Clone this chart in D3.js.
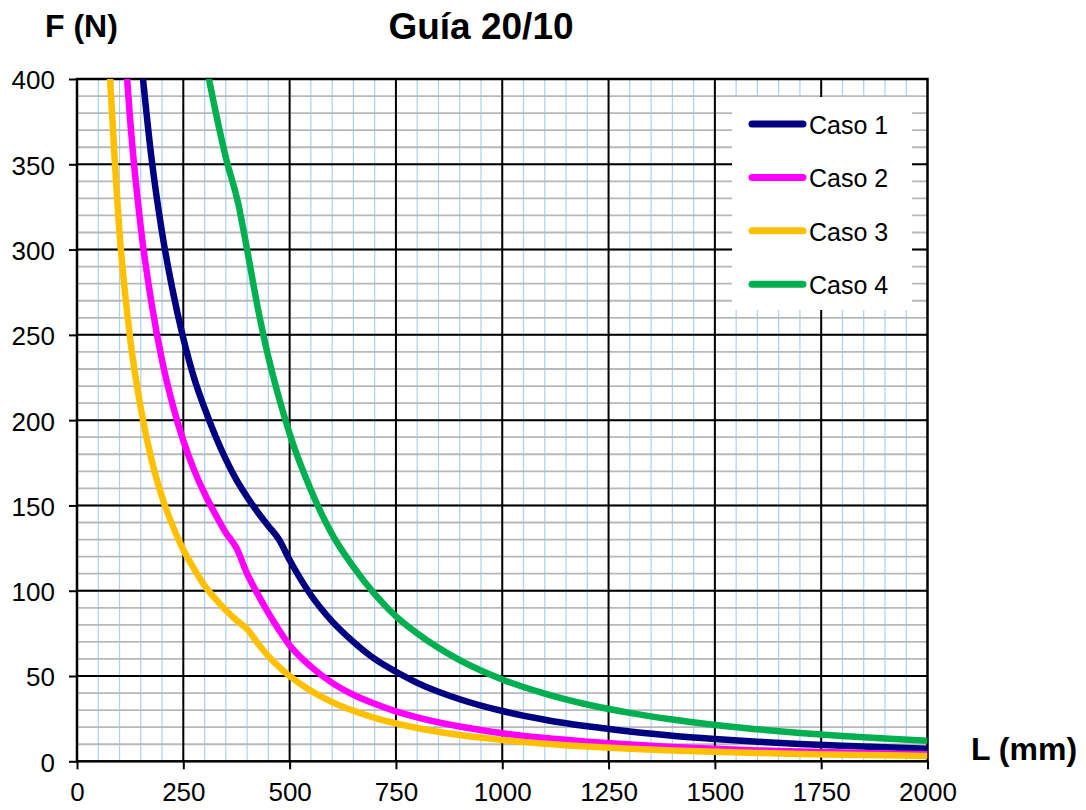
<!DOCTYPE html>
<html>
<head>
<meta charset="utf-8">
<script src="https://cdn.jsdelivr.net/npm/d3@7/dist/d3.min.js"></script>
<style>
    body { margin: 0; background: #fff; }
    svg  { display: block; font-family: Arial, "Liberation Sans", sans-serif; }
</style>
</head>
<body>
<div id="graph-01"></div>
<script>
    // data ===============================================================
    const SERIES_NAMES = ['Caso 1', 'Caso 2', 'Caso 3', 'Caso 4'];

    const L_CASO_1 = [150, 175, 200, 225, 250, 275, 300, 325, 350, 375, 400, 425, 450, 475,
                      500, 550, 600, 650, 700, 750, 800, 900, 1000, 1100, 1200, 1300, 1400,
                      1500, 1600, 1700, 1800, 1900, 2000];
    const F_CASO_1 = [413, 354, 310, 276, 248, 225, 207, 191, 177, 165, 155, 146, 138, 130,
                      118, 97.5, 82, 70, 60, 52.5, 46, 36.4, 29.5, 24.4, 20.5, 17.5, 15,
                      13.1, 11.5, 10.2, 9.1, 8.2, 7.4];

    const L_CASO_2 = [100, 125, 150, 175, 200, 225, 250, 275, 300, 325, 350, 375, 400, 425,
                      450, 475, 500, 550, 600, 650, 700, 750, 800, 900, 1000, 1100, 1200,
                      1300, 1400, 1500, 1600, 1700, 1800, 1900, 2000];
    const F_CASO_2 = [470, 376, 313, 269, 235, 209, 188, 171, 157, 145, 134, 125, 110, 98,
                      87, 77, 68, 55.5, 46, 39, 33.7, 29.3, 25.8, 20.4, 16.5, 13.6, 11.5,
                      9.8, 8.4, 7.3, 6.4, 5.7, 5.1, 4.6, 4.1];

    const L_CASO_3 = [75, 100, 125, 150, 175, 200, 225, 250, 275, 300, 325, 350, 375, 400,
                      425, 450, 475, 500, 550, 600, 650, 700, 750, 800, 900, 1000, 1100, 1200,
                      1300, 1400, 1500, 1600, 1700, 1800, 1900, 2000];
    const F_CASO_3 = [413, 310, 248, 207, 177, 155, 138, 124, 113, 103, 95.4, 88.6, 82.7, 77.5,
                      69.2, 61.7, 55.4, 50, 41.3, 34.7, 29.6, 25.5, 22.2, 19.5, 15.4, 12.5, 10.3, 8.7,
                      7.4, 6.4, 5.6, 4.9, 4.3, 3.9, 3.5, 3.1];

    const L_CASO_4 = [300, 325, 350, 380, 400, 425, 450, 475, 500, 550, 600, 650, 700, 750,
                      800, 900, 1000, 1100, 1200, 1300, 1400, 1500, 1600, 1700, 1800, 1900, 2000];
    const F_CASO_4 = [413, 382, 354, 326, 300, 266, 237, 213, 192, 159, 133, 114, 98, 85,
                      75, 59.3, 48, 39.7, 33.3, 28.4, 24.5, 21.3, 18.8, 16.6, 14.8, 13.3, 12];

    const X_TICKS = [0, 250, 500, 750, 1000, 1250, 1500, 1750, 2000];
    const Y_TICKS = [0, 50, 100, 150, 200, 250, 300, 350, 400];

    const TITLE   = 'Guía 20/10';
    const Y_LABEL = 'F (N)';
    const X_LABEL = 'L (mm)';

    (function(){
        var WIDTH  = 1086,
            HEIGHT = 810;

        var PLOT = { left: 77, right: 927.5, top: 79, bottom: 761.3 };

        var COLORS = ['#000080', '#ff00ff', '#ffc000', '#00b050'];

        var series = [
            { name: SERIES_NAMES[0], L: L_CASO_1, F: F_CASO_1 },
            { name: SERIES_NAMES[1], L: L_CASO_2, F: F_CASO_2 },
            { name: SERIES_NAMES[2], L: L_CASO_3, F: F_CASO_3 },
            { name: SERIES_NAMES[3], L: L_CASO_4, F: F_CASO_4 }
        ];

        var x = d3.scaleLinear().domain([0, 2000]).range([PLOT.left, PLOT.right]);
        var y = d3.scaleLinear().domain([0, 400]).range([PLOT.bottom, PLOT.top]);

        var svg = d3.select('#graph-01')
            .append('svg')
            .attr('width', WIDTH)
            .attr('height', HEIGHT);

        // grid ----------------------------------------------------------
        var grid = svg.append('g').attr('class', 'grid');

        // minor vertical, every 50 mm
        grid.selectAll('line.vminor')
            .data(d3.range(50, 2000, 50))
            .enter().append('line')
            .attr('x1', function(d){ return x(d) }).attr('x2', function(d){ return x(d) })
            .attr('y1', PLOT.top).attr('y2', PLOT.bottom)
            .style('stroke', '#a9d1f7').style('stroke-width', 1.2);

        // minor horizontal, every 10 N
        grid.selectAll('line.hminor')
            .data(d3.range(10, 400, 10))
            .enter().append('line')
            .attr('x1', PLOT.left).attr('x2', PLOT.right)
            .attr('y1', function(d){ return y(d) }).attr('y2', function(d){ return y(d) })
            .style('stroke', '#b8b8b8').style('stroke-width', 1.8);

        // major lines
        grid.selectAll('line.vmajor')
            .data(X_TICKS.slice(1, -1))
            .enter().append('line')
            .attr('x1', function(d){ return x(d) }).attr('x2', function(d){ return x(d) })
            .attr('y1', PLOT.top).attr('y2', PLOT.bottom)
            .style('stroke', '#000').style('stroke-width', 2);

        grid.selectAll('line.hmajor')
            .data(Y_TICKS.slice(1, -1))
            .enter().append('line')
            .attr('x1', PLOT.left).attr('x2', PLOT.right)
            .attr('y1', function(d){ return y(d) }).attr('y2', function(d){ return y(d) })
            .style('stroke', '#000').style('stroke-width', 2);

        // axes ----------------------------------------------------------
        var yAxis = svg.append('g')
            .attr('transform', 'translate(' + PLOT.left + ',0)')
            .call(d3.axisLeft(y).tickValues(Y_TICKS).tickFormat(d3.format('d'))
                .tickSize(8).tickPadding(14));

        var xAxis = svg.append('g')
            .attr('transform', 'translate(0,' + PLOT.bottom + ')')
            .call(d3.axisBottom(x).tickValues(X_TICKS).tickFormat(d3.format('d'))
                .tickSize(8).tickPadding(13));

        [yAxis, xAxis].forEach(function(a){
            a.select('.domain').remove();
            a.selectAll('line').style('stroke', '#000').style('stroke-width', 2);
            a.selectAll('text')
                .style('font-family', 'Arial, "Liberation Sans", sans-serif')
                .style('font-size', '26px')
                .style('fill', '#000');
        });
        yAxis.selectAll('text').attr('dy', '0.38em');

        // plot border
        svg.append('rect')
            .attr('x', PLOT.left).attr('y', PLOT.top)
            .attr('width', PLOT.right - PLOT.left)
            .attr('height', PLOT.bottom - PLOT.top)
            .style('fill', 'none').style('stroke', '#000').style('stroke-width', 2.5);

        // curves --------------------------------------------------------
        svg.append('clipPath').attr('id', 'plot-clip')
            .append('rect')
            .attr('x', PLOT.left).attr('y', PLOT.top)
            .attr('width', PLOT.right - PLOT.left)
            .attr('height', PLOT.bottom - PLOT.top);

        var line = d3.line()
            .x(function(d){ return x(d[0]) })
            .y(function(d){ return y(d[1]) })
            .curve(d3.curveMonotoneX);

        svg.append('g').attr('clip-path', 'url(#plot-clip)')
            .selectAll('path')
            .data(series)
            .enter().append('path')
            .attr('d', function(d){ return line(d3.zip(d.L, d.F)) })
            .style('fill', 'none')
            .style('stroke', function(d, i){ return COLORS[i] })
            .style('stroke-width', 6.5)
            .style('stroke-linejoin', 'round');

        // legend --------------------------------------------------------
        var legend = svg.append('g').attr('class', 'legend');

        legend.append('rect')
            .attr('x', 732).attr('y', 97)
            .attr('width', 180).attr('height', 213)
            .style('fill', '#fff');

        var items = legend.selectAll('g.item')
            .data(series)
            .enter().append('g')
            .attr('transform', function(d, i){ return 'translate(0,' + (124 + i * 53.4) + ')' });

        items.append('line')
            .attr('x1', 752).attr('x2', 803)
            .attr('y1', 0).attr('y2', 0)
            .style('stroke', function(d, i){ return COLORS[i] })
            .style('stroke-width', 7)
            .style('stroke-linecap', 'round');

        items.append('text')
            .attr('x', 809).attr('y', 10)
            .style('font-size', '25px')
            .text(function(d){ return d.name });

        // titles --------------------------------------------------------
        svg.append('text')
            .attr('x', 481).attr('y', 38.5)
            .attr('text-anchor', 'middle')
            .style('font-size', '37px').style('font-weight', 'bold')
            .text(TITLE);

        svg.append('text')
            .attr('x', 45).attr('y', 37)
            .style('font-size', '32px').style('font-weight', 'bold')
            .text(Y_LABEL);

        svg.append('text')
            .attr('x', 971).attr('y', 759.5)
            .style('font-size', '32px').style('font-weight', 'bold')
            .text(X_LABEL);
    })();
</script>
</body>
</html>
